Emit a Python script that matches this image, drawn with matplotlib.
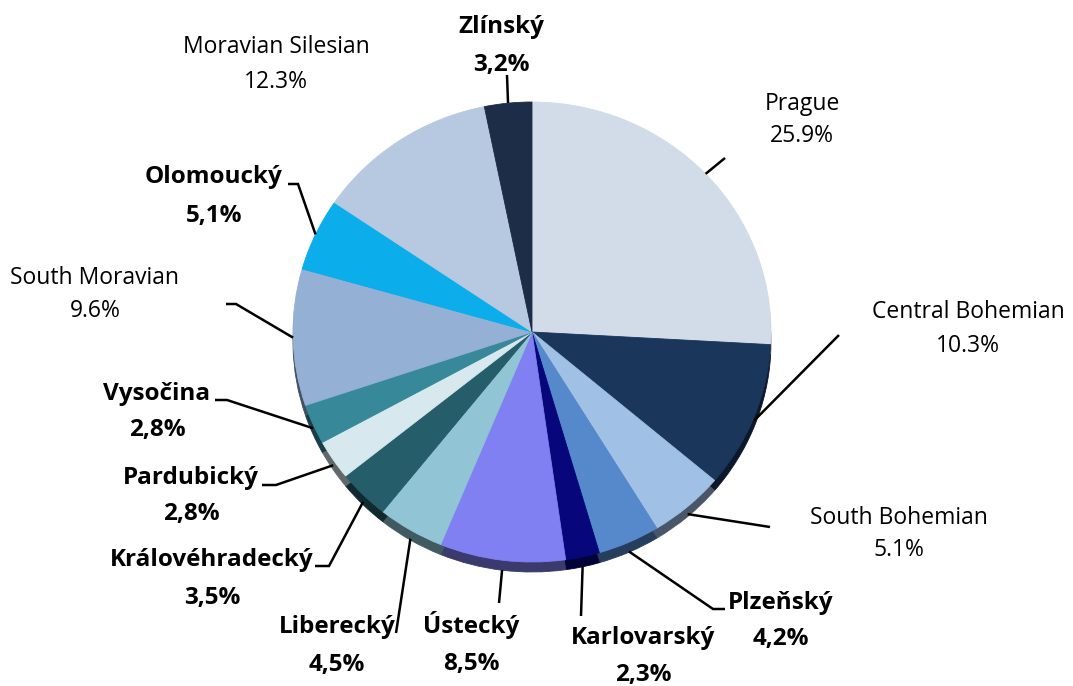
import matplotlib
matplotlib.use("Agg")
import matplotlib.pyplot as plt
import numpy as np

# --- data -------------------------------------------------------------
regions = ["Prague", "Central Bohemian", "South Bohemian", "Plzeňský",
           "Karlovarský", "Ústecký", "Liberecký", "Královéhradecký",
           "Pardubický", "Vysočina", "South Moravian", "Olomoucký",
           "Moravian Silesian", "Zlínský"]
shares = [25.9, 10.3, 5.1, 4.2, 2.3, 8.5, 4.5, 3.5, 2.8, 2.8, 9.6, 5.1, 12.3, 3.2]

# regions labelled in plain type with a decimal point (others: bold, decimal comma)
plain_labels = {"Prague", "Central Bohemian", "South Bohemian",
                "South Moravian", "Moravian Silesian"}

colors = ["#D1DCE8", "#1B365B", "#A0C0E5", "#5589CB", "#07077B", "#8080F2",
          "#91C5D6", "#265D6A", "#D7E8EE", "#37899A", "#95B0D5", "#0BAEEA",
          "#B7C9E0", "#1D2D47"]

# label layout in pixel space (x centre, baseline of name, baseline of value,
# leader points running from the label towards the pie)
label_layout = {
    "Prague":            (802, 110, 142, [(725, 158)]),
    "Central Bohemian":  (968, 318, 352, [(839, 335)]),
    "South Bohemian":    (899, 524, 556, [(770, 527)]),
    "Plzeňský":          (781, 609, 645, [(725, 609), (713, 609)]),
    "Karlovarský":       (643, 644, 681, [(581, 616)]),
    "Ústecký":           (471, 633, 670, [(499, 603)]),
    "Liberecký":         (337, 633, 671, [(396, 633)]),
    "Královéhradecký":   (212, 566, 604, [(315, 566), (329, 566)]),
    "Pardubický":        (191, 484, 520, [(262, 485), (276, 485)]),
    "Vysočina":          (157, 400, 436, [(215, 400), (227, 400)]),
    "South Moravian":    (95, 284, 317, [(226, 304), (236, 304)]),
    "Olomoucký":         (214, 183, 222, [(288, 184), (298, 184)]),
    "Moravian Silesian": (276, 53, 88, []),
    "Zlínský":           (501, 33, 71, [(507, 75)]),
}

plt.rcParams["font.family"] = ["Open Sans", "DejaVu Sans"]

W, H = 1073, 686
fig = plt.figure(figsize=(W / 100, H / 100), dpi=100)
fig.patch.set_facecolor("white")

# pie axes: top surface spans x 293..771 px, y 102..562 px; the side rim
# adds ~10 px below
rim = 10 / 230
px_left, px_right, px_top, px_bottom = 293, 771, 102, 572
pax = fig.add_axes([px_left / W, 1 - px_bottom / H,
                    (px_right - px_left) / W, (px_bottom - px_top) / H])


def darken(c, f):
    rgb = np.array(matplotlib.colors.to_rgb(c))
    return tuple(rgb * f)


rim_colors = [darken(c, 0.45) for c in colors]
rim_wedges, _ = pax.pie(shares, colors=rim_colors, startangle=90,
                        counterclock=False, radius=1, center=(0, -rim))
wedges, _ = pax.pie(shares, colors=colors, startangle=90,
                    counterclock=False, radius=1, center=(0, 0))
for w in list(rim_wedges) + list(wedges):
    w.set_edgecolor(w.get_facecolor())
    w.set_linewidth(0.6)
pax.set_aspect("auto")
pax.set_xlim(-1, 1)
pax.set_ylim(-1 - rim, 1)
pax.axis("off")

# overlay axes in pixel coordinates (y downwards) for labels and leaders
ov = fig.add_axes([0, 0, 1, 1])
ov.set_xlim(0, W)
ov.set_ylim(H, 0)
ov.axis("off")
ov.patch.set_alpha(0)

to_ov = ov.transData.inverted()

for name, value, w in zip(regions, shares, wedges):
    x, b1, b2, leader = label_layout[name]
    plain = name in plain_labels
    val_txt = f"{value:.1f}%" if plain else f"{value:.1f}%".replace(".", ",")
    if plain:
        kw = dict(fontsize=16.5, fontweight="medium", color="#000000")
    else:
        kw = dict(fontsize=17.5, fontweight="bold", color="#000000")
    ov.text(x, b1, name, ha="center", va="baseline", **kw)
    ov.text(x, b2, val_txt, ha="center", va="baseline", **kw)

    if leader:
        # leader ends on the wedge's outer edge at its mid angle; on the lower
        # half it reaches down over the visible side rim
        th = np.deg2rad((w.theta1 + w.theta2) / 2)
        ux, uy = np.cos(th), np.sin(th)
        if uy < 0:
            uy += rim * uy
        anchor = to_ov.transform(pax.transData.transform((ux, uy)))
        pts = np.array(leader + [tuple(anchor)])
        ov.plot(pts[:, 0], pts[:, 1], color="black", lw=1.8,
                solid_capstyle="butt", solid_joinstyle="miter")

fig.savefig("out.png", dpi=100, facecolor="white")
